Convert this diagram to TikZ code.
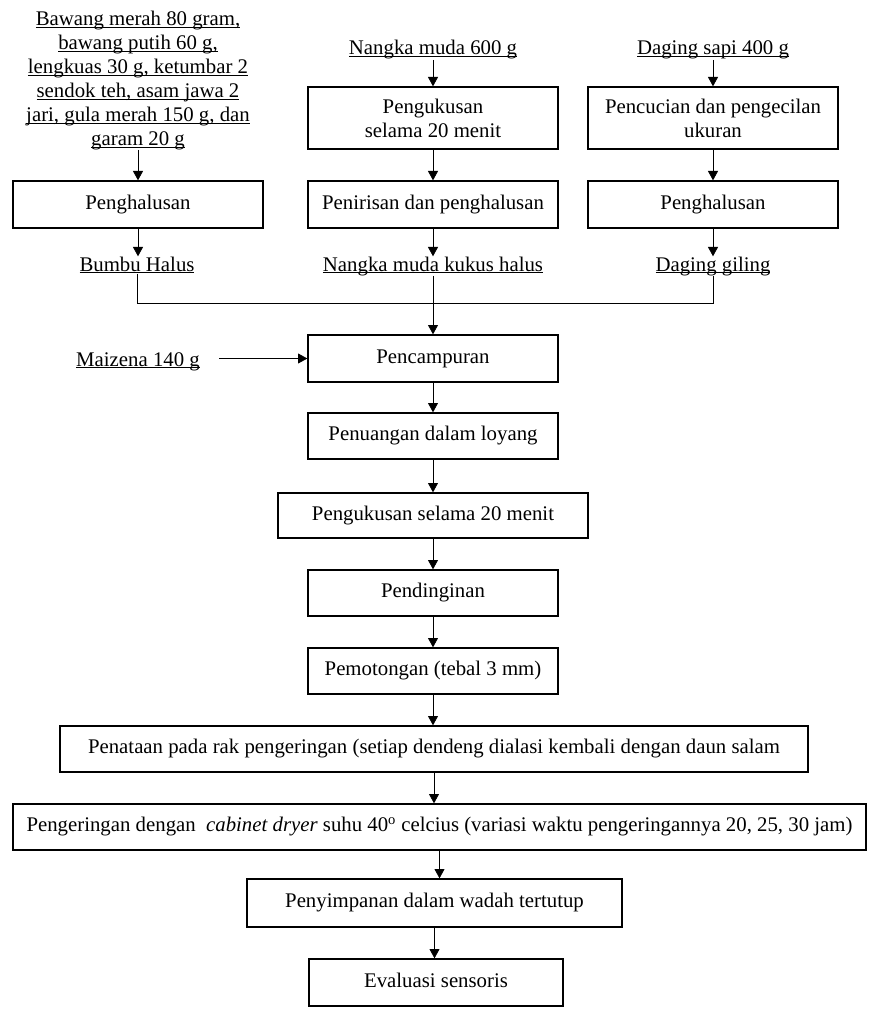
\documentclass[tikz,border=0pt]{standalone}
\usepackage{fontspec}
\setmainfont{Liberation Serif}
\usetikzlibrary{arrows.meta}
\newsavebox\ulbox
\newcommand\ulx[1]{\sbox\ulbox{#1}\rlap{\rule[-1.7pt]{\wd\ulbox}{0.7pt}}\usebox\ulbox}
\begin{document}
\begin{tikzpicture}[x=0.75pt,y=-0.75pt, font=\fontsize{15.6}{17.9}\selectfont,
 bx/.style 2 args={draw, line width=1pt, minimum width=#1*0.75pt, minimum height=#2*0.75pt, inner sep=0pt, align=center},
 one/.style={text height=0.72em, text depth=0pt},
 lbl/.style={inner sep=0pt, align=center},
 arr/.style={-{Triangle[length=7pt,width=7.5pt]}, line width=0.6pt},
 ln/.style={line width=0.6pt}]
\useasboundingbox (0,0) rectangle (872,1020);
% left column
\node[lbl, anchor=south] (ing1) at (138,150) {\ulx{Bawang merah 80 gram,}\\\ulx{bawang putih 60 g,}\\\ulx{lengkuas 30 g, ketumbar 2}\\\ulx{sendok teh, asam jawa 2}\\\ulx{jari, gula merah 150 g, dan}\\\ulx{garam 20 g}};
\node[bx={250}{47}, one] (b1) at (138,204.5) {Penghalusan};
\node[lbl, anchor=base] (lab1) at (137,271) {\ulx{Bumbu Halus}};
% middle column
\node[lbl, anchor=base] (ing2) at (433,55) {\ulx{Nangka muda 600 g}};
\node[bx={250}{62}] (m1) at (433,118) {Pengukusan\\selama 20 menit};
\node[bx={250}{47}, one] (m2) at (433,204.5) {Penirisan dan penghalusan};
\node[lbl, anchor=base] (lab2) at (433,271) {\ulx{Nangka muda kukus halus}};
% right column
\node[lbl, anchor=base] (ing3) at (713,55) {\ulx{Daging sapi 400 g}};
\node[bx={250}{62}] (r1) at (713,118) {Pencucian dan pengecilan\\ukuran};
\node[bx={250}{47}, one] (r2) at (713,204.5) {Penghalusan};
\node[lbl, anchor=base] (lab3) at (713,271) {\ulx{Daging giling}};
% main chain
\node[bx={250}{47}, one] (mix) at (433,358.5) {Pencampuran};
\node[lbl, anchor=base] (maiz) at (138,366) {\ulx{Maizena 140 g}};
\coordinate (mzs) at (219,358.5);
\node[bx={250}{46}, one] (pour) at (433,436) {Penuangan dalam loyang};
\node[bx={310}{45}, one] (steam) at (433,515.5) {Pengukusan selama 20 menit};
\node[bx={250}{46}, one] (cool) at (433,593) {Pendinginan};
\node[bx={250}{46}, one] (cut) at (433,671) {Pemotongan (tebal 3 mm)};
\node[bx={748}{46}, one] (arrange) at (434,749) {Penataan pada rak pengeringan (setiap dendeng dialasi kembali dengan daun salam};
\node[bx={853}{46}, one] (dry) at (439.5,827) {Pengeringan dengan \ \textit{cabinet dryer} suhu 40\textsuperscript{o} celcius (variasi waktu pengeringannya 20, 25, 30 jam)};
\node[bx={375}{48}, one] (store) at (434.5,903) {Penyimpanan dalam wadah tertutup};
\node[bx={254}{47}, one] (eval) at (436,982.5) {Evaluasi sensoris};
% connectors
\foreach \a/\b in {ing1/b1, b1/lab1, ing2/m1, m1/m2, m2/lab2, ing3/r1, r1/r2, r2/lab3}
  \draw[arr] (\a.south) -- (\a.south |- \b.north);
\coordinate (j) at (433,303);
\draw[ln] (lab1.south) -- (lab1.south |- j) -- (lab3.south |- j) -- (lab3.south);
\draw[arr] (lab2.south) -- (lab2.south |- mix.north);
\draw[arr] (mzs) -- (mix.west);
\foreach \a/\b in {mix/pour, pour/steam, steam/cool, cool/cut, cut/arrange, arrange/dry, dry/store, store/eval}
  \draw[arr] (\a.south) -- (\a.south |- \b.north);
\end{tikzpicture}
\end{document}
